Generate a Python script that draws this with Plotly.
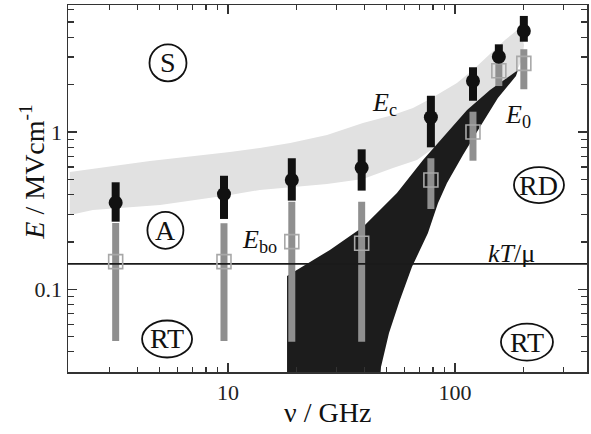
import numpy as np
import plotly.graph_objects as go

# ---------------- data ----------------
freq = [3.2, 9.6, 19.1, 38.8, 78.3, 120, 156, 201]          # GHz
ec = [0.355, 0.403, 0.495, 0.593, 1.24, 2.11, 3.01, 4.39]   # filled circles
ec_hi = [0.479, 0.527, 0.681, 0.776, 1.70, 2.58, 3.61, 5.47]
ec_lo = [0.269, 0.280, 0.366, 0.424, 0.799, 1.58, 2.80, 3.75]
ebo = [0.150, 0.150, 0.201, 0.196, 0.495, 1.00, 2.45, 2.73]  # open squares
ebo_hi = [0.264, 0.263, 0.360, 0.360, 0.681, 1.346, 3.01, 3.36]
ebo_lo = [0.0469, 0.0469, 0.0464, 0.0464, 0.324, 0.657, 1.96, 1.87]
kt_mu = 0.145

# light-grey E_c band
band_up_f = [2.01, 4.53, 10.2, 13.8, 18.8, 27.3, 39.3, 53.3, 65.3, 77.6, 102, 122.5, 142.6, 166, 193]
band_up_e = [0.557, 0.654, 0.746, 0.791, 0.851, 0.957, 1.141, 1.282, 1.421, 1.621, 2.05, 2.55, 3.13, 3.85, 4.58]
band_lo_f = [2.01, 2.54, 5.02, 10.2, 13.8, 20.1, 27.3, 39.3, 53.3, 68.0, 90.4, 113, 142.6, 183.6, 197, 201.5]
band_lo_e = [0.297, 0.319, 0.3435, 0.3976, 0.428, 0.447, 0.467, 0.503, 0.590, 0.664, 0.889, 1.227, 1.669, 2.30, 2.87, 3.57]

# black E_0 region
e0_top_f = [18.2, 18.2, 20.1, 28.1, 39.3, 55.5, 72.3, 90.4, 113, 142.6, 189.5]
e0_top_e = [0.02, 0.1215, 0.1327, 0.1778, 0.249, 0.4095, 0.664, 0.957, 1.38, 1.85, 2.48]
e0_right_f = [185.6, 154.5, 128.8, 108.4, 92.2, 84.2, 76.0, 64.6, 57.2, 51.2, 47.2, 46.2]
e0_right_e = [2.27, 1.645, 1.076, 0.714, 0.474, 0.354, 0.228, 0.1386, 0.0855, 0.0527, 0.0321, 0.02]

x_range = [1.973, 381.5]
y_range = [0.02979, 6.42]
x_major = [10, 100]
x_minor = [3, 4, 5, 6, 7, 8, 9, 20, 30, 40, 50, 60, 70, 80, 90, 200, 300]
y_major = [0.1, 1]
y_minor = [0.04, 0.05, 0.06, 0.07, 0.08, 0.09, 0.2, 0.3, 0.4, 0.5, 0.6, 0.7, 0.8, 0.9, 2, 3, 4, 5, 6]

# region labels: text, f, E, ellipse half-width/half-height (px)
regions = [("S", 5.44, 2.75, 18.5, 18.5),
           ("A", 5.30, 0.237, 18, 18.5),
           ("RT", 5.39, 0.0483, 25, 18.5),
           ("RT", 207.5, 0.0462, 26, 18.5),
           ("RD", 234.4, 0.46, 25, 18)]
curve_labels = [("<i>E</i><sub>c</sub>", 42.2, 1.507, 26),
                ("<i>E</i><sub>0</sub>", 162.7, 1.264, 26),
                ("<i>E</i><sub>bo</sub>", 11.3, 0.2028, 26),
                ("<i>kT</i>/μ", 137.0, 0.1677, 26)]

FONT = "Liberation Serif"
lx = np.log10(x_range)
ly = np.log10(y_range)


def to_paper(f, e):
    return ((np.log10(f) - lx[0]) / (lx[1] - lx[0]),
            (np.log10(e) - ly[0]) / (ly[1] - ly[0]))


fig = go.Figure()

# band
fig.add_trace(go.Scatter(x=band_up_f + band_lo_f[::-1], y=band_up_e + band_lo_e[::-1],
                         fill="toself", fillcolor="#e1e1e1", line=dict(width=0),
                         mode="lines", hoverinfo="skip"))
# black region
fig.add_trace(go.Scatter(x=e0_top_f + e0_right_f, y=e0_top_e + e0_right_e,
                         fill="toself", fillcolor="#1c1c1c", line=dict(width=0, color="#1c1c1c"),
                         mode="lines", hoverinfo="skip"))
# grey bars (E_bo ranges)
fig.add_trace(go.Scatter(
    x=freq, y=ebo, mode="markers", marker=dict(size=2, color="rgba(0,0,0,0)"),
    error_y=dict(type="data", symmetric=False,
                 array=[h - v for h, v in zip(ebo_hi, ebo)],
                 arrayminus=[v - l for v, l in zip(ebo, ebo_lo)],
                 thickness=7, width=0, color="#8f8f8f")))
# kT/mu line
fig.add_trace(go.Scatter(x=x_range, y=[kt_mu, kt_mu], mode="lines",
                         line=dict(color="#1a1a1a", width=1.6), hoverinfo="skip"))
# open squares
fig.add_trace(go.Scatter(x=freq, y=ebo, mode="markers",
                         marker=dict(symbol="square-open", size=14, color="#a8a8a8",
                                     line=dict(width=1.6, color="#a8a8a8"))))
# black bars + filled circles (E_c)
fig.add_trace(go.Scatter(
    x=freq, y=ec, mode="markers", marker=dict(size=14, color="#111111"),
    error_y=dict(type="data", symmetric=False,
                 array=[h - v for h, v in zip(ec_hi, ec)],
                 arrayminus=[v - l for v, l in zip(ec, ec_lo)],
                 thickness=8, width=0, color="#111111")))

shapes = []
annotations = []
for txt, f, e, rx, ry in regions:
    px, py = to_paper(f, e)
    shapes.append(dict(type="circle", xref="paper", yref="paper",
                       xsizemode="pixel", ysizemode="pixel",
                       xanchor=px, yanchor=py, x0=-rx, x1=rx, y0=-ry, y1=ry,
                       line=dict(color="#111111", width=1.8)))
    annotations.append(dict(x=np.log10(f), y=np.log10(e), xref="x", yref="y", text=txt,
                            showarrow=False, xanchor="center", yanchor="middle",
                            font=dict(family=FONT, size=28, color="#111111")))
for txt, f, e, size in curve_labels:
    annotations.append(dict(x=np.log10(f), y=np.log10(e), xref="x", yref="y", text=txt,
                            showarrow=False, xanchor="left", yanchor="middle",
                            font=dict(family=FONT, size=size, color="#111111")))

# axis titles
annotations.append(dict(x=0.5, y=-0.109, xref="paper", yref="paper", text="ν / GHz",
                        showarrow=False, xanchor="center", yanchor="middle",
                        font=dict(family=FONT, size=28, color="#111111")))
annotations.append(dict(x=-0.0674, y=0.546, xref="paper", yref="paper",
                        text="<i>E</i> / MVcm<sup>-1</sup>", textangle=-90,
                        showarrow=False, xanchor="center", yanchor="middle",
                        font=dict(family=FONT, size=28, color="#111111")))

fig.update_layout(width=591, height=434, margin=dict(l=68, r=4, t=5, b=62, autoexpand=False),
                  plot_bgcolor="white", paper_bgcolor="white", showlegend=False,
                  font=dict(family=FONT, color="#111111"),
                  shapes=shapes, annotations=annotations)

axis_common = dict(type="log", showgrid=False, zeroline=False, showline=True,
                   linecolor="#333333", linewidth=1.5, mirror="ticks", automargin=False,
                   ticks="inside", ticklen=9, tickwidth=1.5, tickcolor="#333333",
                   tickfont=dict(family=FONT, size=22, color="#222222"))
fig.update_xaxes(range=list(lx), tickvals=x_major,
                 ticktext=[str(v) for v in x_major],
                 minor=dict(tickvals=x_minor, ticks="inside", ticklen=5, tickwidth=1.2,
                            tickcolor="#333333", showgrid=False),
                 **axis_common)
fig.update_yaxes(range=list(ly), tickvals=y_major,
                 ticktext=["0.1", "1"],
                 minor=dict(tickvals=y_minor, ticks="inside", ticklen=6, tickwidth=1.2,
                            tickcolor="#333333", showgrid=False),
                 **axis_common)

fig.write_html("out.html", config={"displayModeBar": False, "staticPlot": True},
               post_script="document.body.style.margin='0px';document.body.style.overflow='hidden';")
